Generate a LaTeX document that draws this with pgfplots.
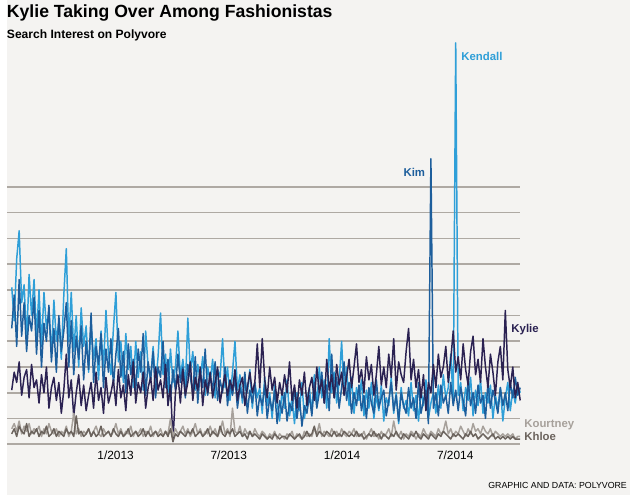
\documentclass[border=0pt]{standalone}
\usepackage{pgfplots}
\usepackage{pgfplotstable}
\pgfplotsset{compat=1.18}
\usepackage{fontspec}
\setmainfont{Liberation Sans}
\definecolor{bgcol}{HTML}{F4F3F1}
\definecolor{gridcol}{HTML}{AEA9A3}
\definecolor{kendall}{HTML}{2F9FD8}
\definecolor{kim}{HTML}{1D5E9C}
\definecolor{kylie}{HTML}{2B2252}
\definecolor{kourtney}{HTML}{A7A19B}
\definecolor{khloe}{HTML}{6B635D}
\pgfplotstableread{
i kd km ky ko kh
0 61 45 21 6 4
1 48 58 28 8 6
2 72 38 24 5 3
3 83 64 32 9 7
4 55 42 19 4 5
5 62 55 26 7 4
6 40 36 29 5 8
7 66 50 18 8 3
8 50 44 31 4 5
9 64 57 22 6 4
10 42 35 25 5 6
11 60 52 16 7 3
12 38 30 27 3 5
13 59 47 20 6 4
14 45 40 30 4 7
15 52 54 14 8 3
16 35 32 22 5 4
17 56 45 26 4 6
18 40 28 17 6 3
19 48 50 24 3 5
20 33 36 12 5 4
21 58 44 21 4 3
22 76 55 35 7 6
23 40 30 18 3 4
24 59 48 25 5 5
25 36 27 11 12 3
26 50 42 20 4 11
27 30 33 27 6 4
28 53 46 15 3 5
29 38 25 23 5 3
30 46 40 13 4 4
31 28 29 19 6 6
32 47 51 24 3 3
33 33 24 14 5 5
34 41 38 28 7 3
35 25 31 17 4 4
36 44 43 22 3 7
37 30 22 12 6 3
38 52 37 26 4 4
39 35 28 16 5 5
40 27 41 20 3 3
41 45 23 25 5 6
42 59 35 15 8 4
43 32 45 29 4 3
44 40 26 18 6 5
45 24 36 23 3 3
46 43 20 13 5 4
47 29 39 27 4 6
48 38 27 19 7 3
49 22 33 32 3 4
50 40 21 16 5 5
51 26 37 24 4 3
52 36 28 20 6 4
53 21 43 28 3 6
54 44 19 14 5 3
55 30 32 22 4 5
56 25 25 26 7 3
57 38 36 17 3 4
58 23 18 30 5 5
59 34 30 21 4 3
60 51 26 25 6 4
61 27 40 18 3 3
62 35 22 31 5 5
63 20 33 15 4 3
64 37 17 23 10 6
65 24 29 1 3 1
66 30 21 20 6 4
67 44 35 27 4 3
68 26 24 16 5 5
69 33 30 29 7 4
70 22 18 19 4 3
71 49 31 24 6 5
72 28 26 32 3 4
73 36 20 17 5 6
74 21 34 26 8 3
75 31 16 21 4 4
76 25 28 30 6 5
77 34 22 15 3 3
78 19 37 25 5 4
79 30 19 20 4 6
80 24 27 28 7 3
81 33 21 18 4 5
82 18 32 24 6 4
83 29 17 30 3 3
84 26 25 16 5 7
85 41 20 22 9 4
86 22 30 27 4 3
87 30 15 19 6 5
88 17 24 25 3 4
89 28 19 21 14 6
90 40 26 29 5 3
91 21 14 17 4 4
92 27 22 23 7 5
93 16 18 26 3 3
94 25 28 15 6 4
95 20 12 22 4 2
96 29 21 28 5 5
97 14 16 20 3 3
98 24 24 24 6 4
99 18 11 39 4 3
100 22 19 22 3 2
101 12 15 41 5 4
102 26 23 25 4 3
103 15 10 18 2 2
104 20 18 30 4 3
105 10 13 21 3 2
106 23 21 26 5 4
107 16 8 16 2 3
108 9 17 24 4 2
109 21 12 19 3 3
110 14 20 27 2 3
111 25 9 20 4 2
112 11 16 32 3 4
113 18 13 17 5 3
114 8 22 23 2 2
115 20 10 14 4 3
116 13 18 25 3 4
117 24 7 19 2 2
118 10 15 28 5 3
119 17 12 15 3 5
120 22 19 22 4 3
121 12 11 26 3 4
122 27 24 17 6 7
123 15 14 30 4 3
124 30 20 20 8 5
125 18 28 25 3 4
126 25 16 16 5 3
127 14 23 33 4 5
128 41 13 21 3 4
129 20 35 27 6 3
130 28 18 18 4 5
131 16 26 31 5 3
132 24 14 23 3 4
133 40 22 28 6 3
134 19 32 19 4 5
135 30 17 26 3 4
136 15 24 33 5 3
137 26 12 22 4 4
138 12 20 30 6 3
139 22 15 39 3 5
140 17 23 24 4 3
141 25 13 29 3 4
142 11 19 20 5 2
143 21 10 34 2 3
144 14 22 25 4 4
145 24 16 31 6 3
146 10 12 19 3 5
147 19 25 27 4 3
148 13 14 38 2 4
149 23 18 23 5 2
150 9 21 30 3 4
151 18 11 22 4 3
152 15 17 35 6 2
153 26 24 26 3 4
154 12 13 41 9 3
155 20 19 21 4 5
156 8 9 32 3 3
157 22 20 27 5 2
158 14 15 24 2 4
159 17 12 36 4 3
160 11 22 45 3 2
161 24 14 25 5 4
162 13 18 33 4 3
163 19 10 22 2 5
164 9 24 29 4 3
165 21 12 18 3 2
166 15 17 27 6 4
167 25 21 13 4 3
168 10 8 24 3 2
169 16 111 20 5 4
170 20 14 31 4 3
171 12 20 22 3 2
172 23 11 35 6 4
173 14 23 26 4 3
174 27 16 30 5 5
175 18 19 38 9 4
176 22 12 24 4 3
177 35 24 33 6 2
178 16 15 44 3 4
179 156 21 28 5 3
180 19 13 34 4 4
181 24 22 25 7 3
182 13 17 39 5 2
183 22 11 29 3 4
184 17 25 23 6 3
185 26 15 36 4 5
186 11 20 42 8 3
187 21 12 27 5 4
188 15 23 33 6 2
189 25 16 24 4 3
190 12 19 41 7 4
191 20 10 30 5 3
192 16 24 22 4 2
193 23 14 35 6 3
194 10 21 28 3 4
195 19 17 19 5 2
196 14 12 32 4 3
197 22 22 38 3 2
198 9 15 25 4 3
199 18 20 52 3 2
200 24 13 29 4 3
201 13 24 22 3 2
202 21 18 30 4 3
203 16 26 18 2 2
204 23 19 24 3 2
205 20 22 17 3 2
}\data
\begin{document}
\begin{tikzpicture}[x=1bp,y=1bp]
\fill[bgcol] (0,0) rectangle (630,500);
\begin{axis}[
  at={(0bp,51bp)}, anchor=south west,
  scale only axis, width=519bp, height=416bp,
  xmin=-2, xmax=205, ymin=0, ymax=160,
  axis line style={draw=none},
  major tick length=0pt,
  ytick={0,10,...,100}, yticklabels={},
  ymajorgrids, grid style={line width=1.6bp, gridcol},
  xtick={41.86,87.5,133.2,178.8},
  xticklabels={1/2013,7/2013,1/2014,7/2014},
  xticklabel style={font=\fontsize{12bp}{12bp}\selectfont, anchor=base, yshift=-15bp, text=black},
  clip=false,
  every axis plot/.append style={line width=1.5bp, line join=round, no markers},
]
\addplot[kendall] table[x=i, y=kd] {\data};
\addplot[kim] table[x=i, y=km] {\data};
\addplot[kylie] table[x=i, y=ky] {\data};
\addplot[kourtney] table[x=i, y=ko] {\data};
\addplot[khloe] table[x=i, y=kh] {\data};
\end{axis}
\node[anchor=base west, inner sep=0pt, font=\fontsize{17.8bp}{20bp}\selectfont\bfseries] at (0,482.5) {Kylie Taking Over Among Fashionistas};
\node[anchor=base west, inner sep=0pt, font=\fontsize{12.2bp}{14bp}\selectfont\bfseries] at (0,461) {Search Interest on Polyvore};
\node[anchor=base west, inner sep=0pt, font=\fontsize{11.5bp}{13bp}\selectfont\bfseries, text=kendall] at (459.3,439.3) {Kendall};
\node[anchor=base east, inner sep=0pt, font=\fontsize{11.5bp}{13bp}\selectfont\bfseries, text=kim] at (423,321.3) {Kim};
\node[anchor=base west, inner sep=0pt, font=\fontsize{11.5bp}{13bp}\selectfont\bfseries, text=kylie] at (510,164.3) {Kylie};
\node[anchor=base west, inner sep=0pt, font=\fontsize{11.5bp}{13bp}\selectfont\bfseries, text=kourtney] at (523,67.7) {Kourtney};
\node[anchor=base west, inner sep=0pt, font=\fontsize{11.5bp}{13bp}\selectfont\bfseries, text=khloe] at (523,54.3) {Khloe};
\node[anchor=base east, inner sep=0pt, font=\fontsize{8.9bp}{10bp}\selectfont] at (627,5.7) {GRAPHIC AND DATA: POLYVORE};
\end{tikzpicture}
\end{document}
